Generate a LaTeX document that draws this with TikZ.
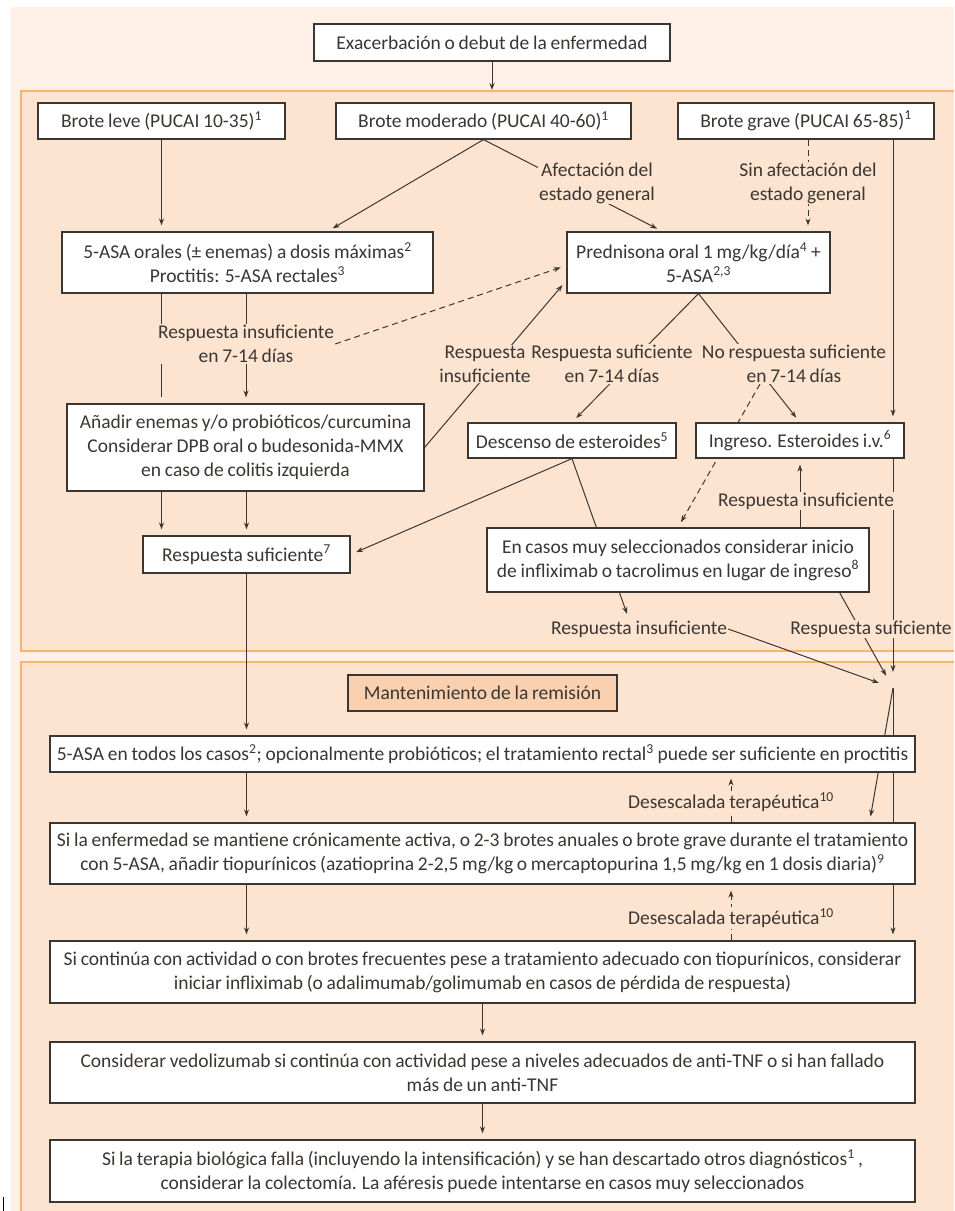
\documentclass[tikz,border=0pt]{standalone}
\usepackage{fontspec}
\setmainfont{Carlito}[WordSpace=0.85]
\usetikzlibrary{arrows.meta,calc,positioning}
\definecolor{pagebg}{HTML}{FEF0E6}
\definecolor{panelbg}{HTML}{FDE4D1}
\definecolor{panelrule}{HTML}{F6B46E}
\definecolor{titlebg}{HTML}{F9D0B0}
\definecolor{ink}{HTML}{3B3632}
\pgfdeclarelayer{back}
\pgfdeclarelayer{edges}
\pgfsetlayers{back,edges,main}

\begin{document}
\begin{tikzpicture}[x=1pt, y=-1pt, >={Stealth[length=7pt,width=5pt]},
  every node/.style={font=\fontsize{19.5}{24}\selectfont, text=ink},
  box/.style={draw=ink, line width=1.2pt, fill=white, align=center, inner sep=2pt},
  lbl/.style={fill=panelbg, align=center, inner sep=1pt},
  link/.style={draw=ink, line width=1pt, shorten >=6pt},
  dashy/.style={dash pattern=on 6pt off 4pt}]

    \useasboundingbox (0,0) rectangle (954,1211);

    \node[box, minimum width=356pt, minimum height=37pt] (exac)    at (492,42.5)   {Exacerbación o debut de la enfermedad};
    \node[box, minimum width=247pt, minimum height=36pt] (leve)    at (161.5,121)  {Brote leve (PUCAI 10-35)\textsuperscript{1}};
    \node[box, minimum width=295pt, minimum height=36pt] (moder)   at (483.5,121)  {Brote moderado (PUCAI 40-60)\textsuperscript{1}};
    \node[box, minimum width=256pt, minimum height=36pt] (grave)   at (806,121)    {Brote grave (PUCAI 65-85)\textsuperscript{1}};
    \node[box, minimum width=371pt, minimum height=61pt] (orales)  at (247.5,262.5) {5-ASA orales (± enemas) a dosis máximas\textsuperscript{2}\\Proctitis: 5-ASA rectales\textsuperscript{3}};
    \node[box, minimum width=263pt, minimum height=61pt] (pred)    at (698.5,262.5) {Prednisona oral 1 mg/kg/día\textsuperscript{4} +\\5-ASA\textsuperscript{2,3}};
    \node[box, minimum width=357pt, minimum height=87pt] (anadir)  at (245.5,447.5) {Añadir enemas y/o probióticos/curcumina\\Considerar DPB oral o budesonida-MMX\\en caso de colitis izquierda};
    \node[box, minimum width=208pt, minimum height=35pt] (desc)    at (572,440.5)  {Descenso de esteroides\textsuperscript{5}};
    \node[box, minimum width=208pt, minimum height=35pt] (ingreso) at (800,440.5)  {Ingreso. Esteroides i.v.\textsuperscript{6}};
    \node[box, minimum width=207pt, minimum height=37pt] (respsuf) at (246.5,554.5) {Respuesta suficiente\textsuperscript{7}};
    \node[box, minimum width=382pt, minimum height=64pt] (encasos) at (678,560)    {En casos muy seleccionados considerar inicio\\de infliximab o tacrolimus en lugar de ingreso\textsuperscript{8}};

    \node[box, fill=titlebg, minimum width=269pt, minimum height=36pt] (mant) at (482.5,693) {Mantenimiento de la remisión};
    \node[box, minimum width=865pt, minimum height=36pt] (todos)  at (482.5,754)   {5-ASA en todos los casos\textsuperscript{2}; opcionalmente probióticos; el tratamiento rectal\textsuperscript{3} puede ser suficiente en proctitis};
    \node[box, minimum width=865pt, minimum height=61pt] (sila)   at (482.5,853.5) {Si la enfermedad se mantiene crónicamente activa, o 2-3 brotes anuales o brote grave durante el tratamiento\\con 5-ASA, añadir tiopurínicos (azatioprina 2-2,5 mg/kg o mercaptopurina 1,5 mg/kg en 1 dosis diaria)\textsuperscript{9}};
    \node[box, minimum width=865pt, minimum height=62pt] (sicont) at (482.5,972)   {Si continúa con actividad o con brotes frecuentes pese a tratamiento adecuado con tiopurínicos, considerar\\iniciar infliximab (o adalimumab/golimumab en casos de pérdida de respuesta)};
    \node[box, minimum width=865pt, minimum height=61pt] (consid) at (482.5,1072.5) {Considerar vedolizumab si continúa con actividad pese a niveles adecuados de anti-TNF o si han fallado\\más de un anti-TNF};
    \node[box, minimum width=865pt, minimum height=62pt] (final)  at (482.5,1171)  {Si la terapia biológica falla (incluyendo la intensificación) y se han descartado otros diagnósticos\textsuperscript{1}\,,\\considerar la colectomía. La aféresis puede intentarse en casos muy seleccionados};

    \node[lbl] (lafect)  at (597,183) {Afectación del\\estado general};
    \node[lbl] (lsin)    at (808,183) {Sin afectación del\\estado general};
    \node[lbl] (linsuf1) at (246,344) {Respuesta insuficiente\\en 7-14 días};
    \node[lbl] (linsuf2) at (485,364) {Respuesta\\insuficiente};
    \node[lbl] (lsuf)    at (612,364) {Respuesta suficiente\\en 7-14 días};
    \node[lbl] (lnosuf)  at (794,364) {No respuesta suficiente\\en 7-14 días};
    \node[lbl] (linsuf3) at (806,501) {Respuesta insuficiente};
    \node[lbl] (linsuf4) at (639,629) {Respuesta insuficiente};
    \node[lbl] (lsuf2)   at (871,629) {Respuesta suficiente};
    \node[lbl] (ldes1)   at (731,802) {Desescalada terapéutica\textsuperscript{10}};
    \node[lbl] (ldes2)   at (731,918) {Desescalada terapéutica\textsuperscript{10}};

    \coordinate (p1top) at (491,91);
    \coordinate (hub)   at (893,688);

    \begin{pgfonlayer}{back}
    \fill[pagebg] (11,7) rectangle (954,1211);
    \fill[panelbg] (21,91) rectangle (954,651);
    \draw[panelrule, line width=1.5pt] (954,91) -- (21,91) -- (21,651) -- (954,651);
    \fill[panelbg] (21,662) rectangle (954,1211);
    \draw[panelrule, line width=1.5pt] (954,662) -- (21,662) -- (21,1211);
    \draw[black, line width=1.5pt] (3.5,1197) -- (3.5,1211);
    \end{pgfonlayer}

    \begin{pgfonlayer}{edges}
    \draw[link, ->, shorten >=1pt] (exac.south) -- (exac.south |- p1top);
    \draw[link, ->] (leve.south) -- (orales.north -| leve);
    \draw[link, ->] (moder.south) -- ([xshift=80pt]orales.north);
    \draw[link, ->] (moder.south) -- ([xshift=-36pt]pred.north);
    \draw[link, ->, dashy] (grave.south -| lsin) -- (pred.north -| lsin);
    \draw[link, ->] (grave.south -| hub) -- (ingreso.north -| hub);

    \draw[link] (orales.south -| leve) -- (anadir.north -| leve);
    \draw[link, ->] (orales.south -| linsuf1) -- (anadir.north -| linsuf1);
    \draw[link, ->, dashy] (linsuf1.east) -- ([yshift=-3pt]pred.west);
    \draw[link, ->] (anadir.east) -- ([yshift=-18pt]pred.west);
    \draw[link, ->] (pred.south) -- (desc.north);
    \draw[link, ->] (pred.south) -- (ingreso.north);
    \draw[link, ->, dashy] ([xshift=-34pt]lnosuf.south) -- (encasos.north);
    \draw[link, ->] (ingreso.south |- encasos.north) -- (ingreso.south);

    \draw[link, ->] (anadir.south -| leve) -- (respsuf.north -| leve);
    \draw[link, ->] (anadir.south -| respsuf) -- (respsuf.north);
    \draw[link, ->] (desc.south) -- (respsuf.east);
    \draw[link, ->] (desc.south) -- ([xshift=-10pt]linsuf4.north);

    \draw[link, ->, shorten >=15pt] (linsuf4.east) -- (hub);
    \draw[link, ->, shorten >=14pt] ([xshift=-30pt]encasos.south east) -- (hub);
    \draw[link, ->, shorten >=16pt] (ingreso.south -| hub) -- (hub);
    \draw[link, ->] (hub) -- (sicont.north -| hub);
    \draw[link, ->] (hub) -- ([xshift=387pt]sila.north);

    \draw[link, ->] (respsuf.south) -- (todos.north -| respsuf);
    \draw[link, ->] (todos.south -| respsuf) -- (sila.north -| respsuf);
    \draw[link, ->] (sila.south -| respsuf) -- (sicont.north -| respsuf);
    \draw[link, ->, dashy] (sila.north -| ldes1) -- (todos.south -| ldes1);
    \draw[link, ->, dashy] (sicont.north -| ldes2) -- (sila.south -| ldes2);
    \draw[link, ->] (sicont.south) -- (consid.north);
    \draw[link, ->] (consid.south) -- (final.north);
    \end{pgfonlayer}

  \end{tikzpicture}
\end{document}
